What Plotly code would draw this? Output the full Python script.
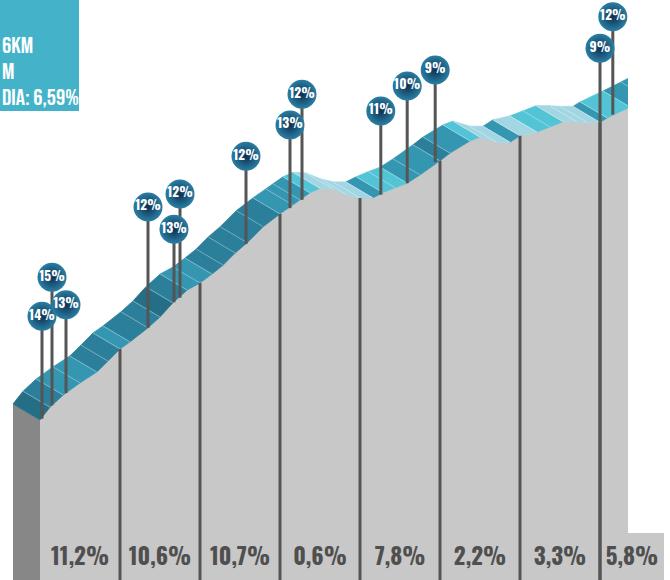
import plotly.graph_objects as go

# ---------------- data ----------------
# climb profile: distance from start (km) and elevation gain (m)
dist_km = [0.0, 0.125, 0.29, 0.5, 0.71, 0.85, 1.0, 1.125, 1.35, 1.5, 1.66, 1.84, 2.0,
           2.15, 2.29, 2.44, 2.59, 2.79, 3.0, 3.16, 3.25, 3.375, 3.5, 3.66, 3.84, 4.0,
           4.16, 4.29, 4.44, 4.59, 4.75, 5.0, 5.125, 5.375, 5.5, 5.71, 5.875, 6.0,
           6.21, 6.375, 6.54, 6.71, 6.84, 7.0, 7.09, 7.375, 7.6, 7.8]
elev_m = [0, 20, 39, 58, 75, 92, 111, 122, 144, 161, 183, 203, 214,
          228, 242, 261, 277, 302, 322, 336, 344, 355, 362, 361, 352, 347,
          347, 355, 363, 370, 383, 405, 417, 436, 442, 434, 434, 444,
          450, 458, 466, 466, 465, 465, 472, 489, 503, 516]

# average gradient of each kilometre section
section_km = [0.5, 1.5, 2.5, 3.5, 4.5, 5.5, 6.5, 7.4]
section_labels = ["11,2%", "10,6%", "10,7%", "0,6%", "7,8%", "2,2%", "3,3%", "5,8%"]
divider_km = [1, 2, 3, 4, 5, 6, 7]

# maximum-gradient pins: position, label, head height and foot height (m)
pin_km = [0.025, 0.15, 0.325, 1.35, 1.675, 1.75, 2.575, 3.125, 3.275, 4.26, 4.59, 4.94, 7.0, 7.16]
pin_labels = ["14%", "15%", "13%", "12%", "13%", "12%", "12%", "13%", "12%", "11%", "10%", "9%", "9%", "12%"]
pin_head_m = [162, 223, 180, 333, 298, 353, 412, 461, 509, 483, 522, 547, 581, 630]
pin_foot_m = [2, 23, 42, 144, 184, 191, 275, 331, 344, 352, 370, 403, -250, 477]

info_lines = ["6KM", "M", "DIA: 6,59%"]

# ---------------- geometry / style ----------------
W, H = 670, 580
PX_KM, PX_M = 80.0, 0.64          # drawing scale
X0_PX, Y0_PX = 40, 420            # pixel position of the start point
XR = [-X0_PX / PX_KM, (W - X0_PX) / PX_KM]
YR = [-(H - Y0_PX) / PX_M, Y0_PX / PX_M]
YMIN = YR[0]
DK, DM = -27 / PX_KM, 16 / PX_M   # oblique depth of the 3D ribbon

FONT = "Oswald, Roboto Condensed, DejaVu Sans Condensed, sans-serif"
BOX_FONT = "Bebas Neue, Oswald, Roboto Condensed, sans-serif"

def shade(g):
    if g < 3:
        return "#a2d6e3"
    if g < 6:
        return "#52c4d5"
    if g < 9.5:
        return "#3596b1"
    if g < 13:
        return "#2b7f9a"
    return "#256f86"

fig = go.Figure()

# left side face of the block
fig.add_trace(go.Scatter(
    x=[dist_km[0] + DK, dist_km[0], dist_km[0], dist_km[0] + DK],
    y=[elev_m[0] + DM, elev_m[0], YMIN, YMIN],
    fill="toself", fillcolor="#878787", mode="lines",
    line=dict(width=0, color="#878787"), hoverinfo="skip", showlegend=False))

# grey front face
fig.add_trace(go.Scatter(
    x=dist_km + [dist_km[-1], dist_km[0]],
    y=elev_m + [YMIN, YMIN],
    fill="toself", fillcolor="#c8c8c8", mode="lines",
    line=dict(width=0, color="#c8c8c8"), hoverinfo="skip", showlegend=False))

# ribbon (top face) coloured by local gradient
groups = {}
for i in range(len(dist_km) - 1):
    g = (elev_m[i + 1] - elev_m[i]) / ((dist_km[i + 1] - dist_km[i]) * 1000) * 100
    c = shade(g)
    xs, ys = groups.setdefault(c, ([], []))
    xs += [dist_km[i], dist_km[i + 1], dist_km[i + 1] + DK, dist_km[i] + DK, dist_km[i], None]
    ys += [elev_m[i], elev_m[i + 1], elev_m[i + 1] + DM, elev_m[i] + DM, elev_m[i], None]
for c, (xs, ys) in groups.items():
    fig.add_trace(go.Scatter(x=xs, y=ys, fill="toself", fillcolor=c, mode="lines",
                             line=dict(width=0.8, color=c), hoverinfo="skip", showlegend=False))

# thin light stripes across the ribbon
sx, sy = [], []
for d, e in zip(dist_km[1:-1], elev_m[1:-1]):
    sx += [d, d + DK, None]
    sy += [e, e + DM, None]
fig.add_trace(go.Scatter(x=sx, y=sy, mode="lines",
                         line=dict(width=0.8, color="rgba(255,255,255,0.45)"),
                         hoverinfo="skip", showlegend=False))

# kilometre dividers
elev_at = dict(zip(dist_km, elev_m))
dx, dy = [], []
for k in divider_km:
    dx += [k, k, None]
    dy += [elev_at[float(k)], YMIN, None]
fig.add_trace(go.Scatter(x=dx, y=dy, mode="lines", line=dict(width=3, color="#555555"),
                         hoverinfo="skip", showlegend=False))

# pin stems
px_, py_ = [], []
for k, h, f in zip(pin_km, pin_head_m, pin_foot_m):
    px_ += [k, k, None]
    py_ += [f, h, None]
fig.add_trace(go.Scatter(x=px_, y=py_, mode="lines", line=dict(width=3, color="#555555"),
                         hoverinfo="skip", showlegend=False))

# pin heads
fig.add_trace(go.Scatter(
    x=pin_km, y=pin_head_m, mode="markers+text", text=pin_labels,
    textposition="middle center",
    textfont=dict(family=FONT, size=13.5, color="white", weight="bold"),
    marker=dict(size=29, color="#2a7fa4", line=dict(width=0),
                gradient=dict(type="radial", color="#0d2f52")),
    hoverinfo="skip", showlegend=False))

# section gradient labels
fig.add_trace(go.Scatter(
    x=section_km, y=[(Y0_PX - 559) / PX_M] * len(section_km), mode="text",
    text=section_labels, textposition="middle center",
    textfont=dict(family=FONT, size=23, color="#4f4f4f", weight="bold"),
    hoverinfo="skip", showlegend=False))

shapes = [
    # right-hand crop of the drawing
    dict(type="rect", xref="paper", yref="paper", x0=628 / W, x1=1.0,
         y0=(H - 533) / H, y1=1.0, fillcolor="white", line=dict(width=0), layer="above"),
    # info box
    dict(type="rect", xref="paper", yref="paper", x0=0, x1=79 / W,
         y0=1 - 111 / H, y1=1.0, fillcolor="#44b3c9", line=dict(width=0), layer="above"),
]
annotations = []
for t, ypx in zip(info_lines, [46, 72, 98]):
    annotations.append(dict(xref="paper", yref="paper", x=0, y=1 - ypx / H,
                            xanchor="left", yanchor="middle", text=t, showarrow=False,
                            font=dict(family=BOX_FONT, size=23, color="white")))

fig.update_layout(
    width=W, height=H, autosize=False,
    margin=dict(l=0, r=0, t=0, b=0, pad=0),
    paper_bgcolor="white", plot_bgcolor="white",
    xaxis=dict(range=XR, visible=False, fixedrange=True),
    yaxis=dict(range=YR, visible=False, fixedrange=True),
    shapes=shapes, annotations=annotations, showlegend=False,
)

fig.write_html("out.html", config={"displayModeBar": False},
               post_script="document.body.style.margin='0';")
